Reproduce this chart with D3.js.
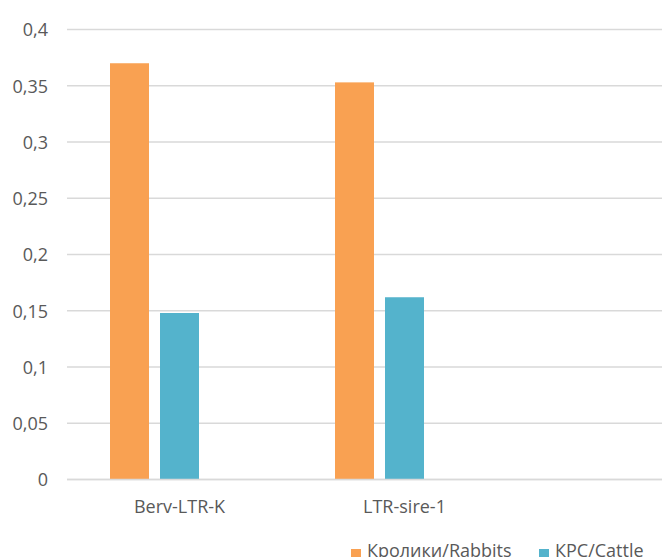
<!DOCTYPE html>
<html>
<head>
<meta charset="utf-8">
<script src="https://cdn.jsdelivr.net/npm/d3@7"></script>
<style>
  html, body { margin: 0; padding: 0; background: #fff; }
  svg { display: block; }
  text { font-family: "Open Sans", sans-serif; fill: #595959; }
</style>
</head>
<body>
<svg id="chart" width="662" height="557"></svg>
<script>
const categories = ["Berv-LTR-K", "LTR-sire-1"];
const seriesNames = ["Кролики/Rabbits", "КРС/Cattle"];
const rabbits = [0.370, 0.353];
const cattle = [0.148, 0.162];
const yTicks = [0, 0.05, 0.1, 0.15, 0.2, 0.25, 0.3, 0.35, 0.4];
const colors = ["#F9A152", "#54B3CC"];

const W = 662, H = 557;
const mLeft = 67, mTop = 29.5, mBottom = 479.5;
const svg = d3.select("#chart");

const y = d3.scaleLinear().domain([0, 0.4]).range([mBottom, mTop]);
const x = d3.scaleBand().domain(categories).range([mLeft, mLeft + 450]).padding(0);
const xSub = d3.scaleBand().domain(seriesNames).range([43, 132]).paddingInner(0.22).paddingOuter(0);

const fmt = d => String(d).replace(".", ",");

// gridlines
svg.append("g")
  .selectAll("line").data(yTicks).join("line")
  .attr("x1", mLeft).attr("x2", W)
  .attr("y1", d => y(d)).attr("y2", d => y(d))
  .attr("stroke", "#d9d9d9").attr("stroke-width", 1.5);

// y axis labels
const yAxis = d3.axisLeft(y).tickValues(yTicks).tickFormat(fmt).tickSize(0).tickPadding(0);
const yg = svg.append("g").attr("transform", `translate(${mLeft - 19},0)`).call(yAxis);
yg.select(".domain").remove();
yg.selectAll("text").attr("font-size", 18).attr("font-family", "Open Sans").attr("fill", "#595959").attr("dy", "0.35em");

// bars
const data = categories.map((c, i) => ({ cat: c, vals: [rabbits[i], cattle[i]] }));
const groups = svg.append("g").selectAll("g").data(data).join("g")
  .attr("transform", d => `translate(${x(d.cat)},0)`);
groups.selectAll("rect").data(d => d.vals.map((v, j) => ({ name: seriesNames[j], v, j })))
  .join("rect")
  .attr("x", d => xSub(d.name))
  .attr("width", xSub.bandwidth())
  .attr("y", d => y(d.v))
  .attr("height", d => y(0) - y(d.v))
  .attr("fill", d => colors[d.j]);

// x axis line redrawn on top
svg.append("line").attr("x1", mLeft).attr("x2", W).attr("y1", y(0)).attr("y2", y(0))
  .attr("stroke", "#d9d9d9").attr("stroke-width", 1.5);

// x axis labels
const xAxis = d3.axisBottom(x).tickSize(0).tickPadding(0);
const xg = svg.append("g").attr("transform", `translate(0,${mBottom})`).call(xAxis);
xg.select(".domain").remove();
xg.selectAll("text").attr("font-size", 18).attr("font-family", "Open Sans").attr("fill", "#595959")
  .attr("y", 33).attr("dy", 0);

// legend
const legendX = [351, 539];
const lg = svg.append("g").selectAll("g").data(seriesNames).join("g")
  .attr("transform", (d, i) => `translate(${legendX[i]},0)`);
lg.append("rect").attr("x", 0).attr("y", 549).attr("width", 10).attr("height", 10)
  .attr("fill", (d, i) => colors[i]);
lg.append("text").attr("x", 16).attr("y", 556.5).attr("font-size", 18).text(d => d);
</script>
</body>
</html>
